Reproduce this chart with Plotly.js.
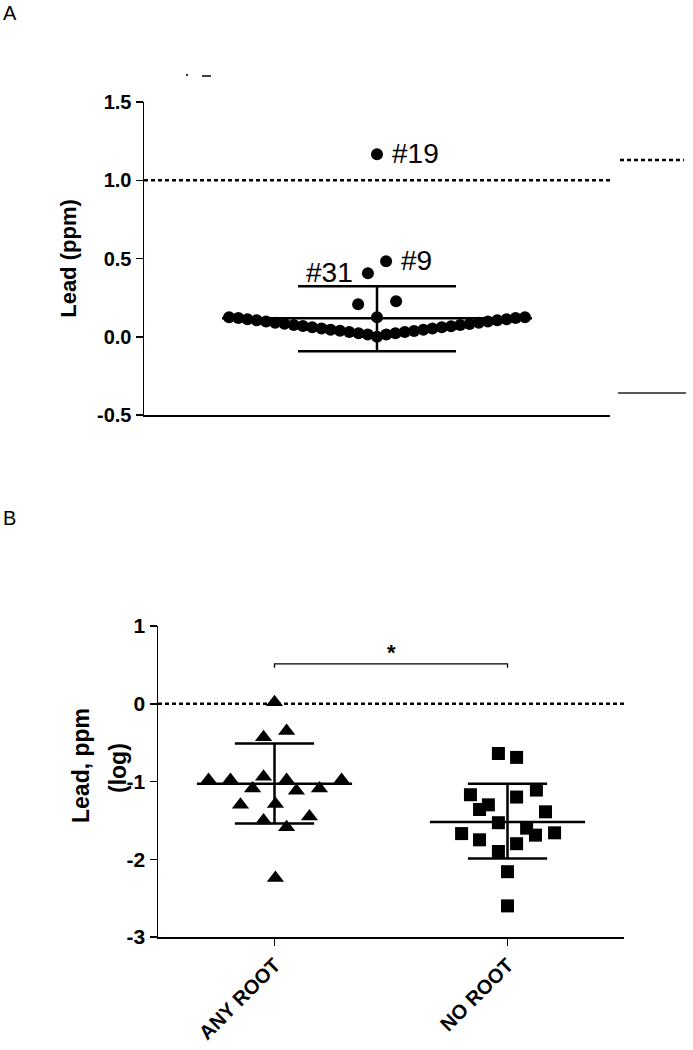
<!DOCTYPE html>
<html>
<head>
<meta charset="utf-8">
<script src="https://cdn.plot.ly/plotly-3.0.1.min.js"></script>
<style>html,body{margin:0;padding:0;background:#fff;}#chart{width:693px;height:1050px;}</style>
</head>
<body>
<div id="chart"></div>
<script>
// ---------- Panel A data (Lead, ppm) ----------
const rowValues = [0.125,0.120,0.112,0.105,0.097,0.090,0.083,0.075,0.068,0.060,0.053,0.045,0.038,0.030,0.023,0.015,0.000,
                   0.015,0.022,0.030,0.037,0.045,0.052,0.060,0.067,0.075,0.082,0.090,0.097,0.105,0.112,0.120,0.125];
const rowJitter = [-0.635,-0.595,-0.556,-0.516,-0.476,-0.437,-0.397,-0.357,-0.318,-0.278,-0.238,-0.199,-0.159,-0.119,-0.079,-0.040,0,
                   0.040,0.079,0.119,0.159,0.199,0.238,0.278,0.318,0.357,0.397,0.437,0.476,0.516,0.556,0.595,0.635];
const extraValues = [1.166, 0.482, 0.406, 0.208, 0.227, 0.125];
const extraJitter = [0, 0.039, -0.039, -0.081, 0.082, 0];
const extraLabels = ["#19", "#9", "#31", "", "", ""];
const meanA = 0.118, sdUpperA = 0.323, sdLowerA = -0.093;
const thresholdA = 1.0;
const ticksA = [-0.5, 0, 0.5, 1.0, 1.5];
const tickTextA = ["-0.5", "0.0", "0.5", "1.0", "1.5"];

// ---------- Panel B data (Lead, ppm, log) ----------
const categoriesB = ["ANY ROOT", "NO ROOT"];
const anyRootValues = [0.02,-0.43,-0.35,-0.98,-0.98,-0.94,-0.98,-0.98,-1.09,-1.12,-1.09,-1.30,-1.29,-1.50,-1.45,-1.59,-2.24];
const anyRootJitter = [0,-0.047,0.052,-0.283,-0.189,-0.047,0.052,0.288,-0.094,0.094,0.193,-0.146,0.004,-0.047,0.150,0.052,0.004];
const noRootValues = [-0.64,-0.69,-1.11,-1.17,-1.20,-1.30,-1.36,-1.39,-1.53,-1.60,-1.67,-1.66,-1.69,-1.75,-1.80,-1.90,-2.16,-2.60];
const noRootJitter = [-0.039,0.039,0.124,-0.159,0.039,-0.082,-0.120,0.163,-0.039,0.082,-0.197,0.202,0.120,-0.120,0.039,-0.039,0,0];
const meansB = [-1.03, -1.52];
const sdUpperB = [-0.51, -1.03];
const sdLowerB = [-1.54, -1.99];
const refLineB = 0;
const bracketLevel = 0.514;
const ticksB = [-3, -2, -1, 0, 1];
const tickTextB = ["-3", "-2", "-1", "0", "1"];

const FONT = "Liberation Sans, Arial, Helvetica, sans-serif";
const BLACK = "#000";

function summaryLines(cx, mean, up, lo, halfMean, halfCap) {
  return {
    x: [cx-halfMean, cx+halfMean, null, cx-halfCap, cx+halfCap, null, cx-halfCap, cx+halfCap, null, cx, cx],
    y: [mean, mean, null, up, up, null, lo, lo, null, up, lo]
  };
}

const traces = [];
// Panel A points
traces.push({
  x: rowJitter.concat(extraJitter), y: rowValues.concat(extraValues),
  type: "scatter", mode: "markers", xaxis: "x", yaxis: "y",
  marker: {symbol: "circle", size: 12, color: BLACK}, hoverinfo: "y"
});
const sA = summaryLines(0, meanA, sdUpperA, sdLowerA, 0.665, 0.339);
traces.push({x: sA.x, y: sA.y, type: "scatter", mode: "lines", xaxis: "x", yaxis: "y",
  line: {color: BLACK, width: 2.5}, hoverinfo: "skip"});

// Panel B points
traces.push({
  x: anyRootJitter.map(j => 0 + j), y: anyRootValues, type: "scatter", mode: "markers",
  xaxis: "x2", yaxis: "y2", marker: {symbol: "triangle-up", size: 15, color: BLACK}, hoverinfo: "y"
});
traces.push({
  x: noRootJitter.map(j => 1 + j), y: noRootValues, type: "scatter", mode: "markers",
  xaxis: "x2", yaxis: "y2", marker: {symbol: "square", size: 13, color: BLACK}, hoverinfo: "y"
});
for (let i = 0; i < categoriesB.length; i++) {
  const s = summaryLines(i, meansB[i], sdUpperB[i], sdLowerB[i], 0.333, 0.17);
  traces.push({x: s.x, y: s.y, type: "scatter", mode: "lines", xaxis: "x2", yaxis: "y2",
    line: {color: BLACK, width: 2.5}, hoverinfo: "skip"});
}
// significance bracket
traces.push({x: [0, 0, 1, 1], y: [bracketLevel - 0.05, bracketLevel, bracketLevel, bracketLevel - 0.05],
  type: "scatter", mode: "lines", xaxis: "x2", yaxis: "y2", line: {color: BLACK, width: 1.3}, hoverinfo: "skip"});

const px = v => v / 693, py = v => 1 - v / 1050;

const annotations = [
  {text: "A", xref: "paper", yref: "paper", x: px(1), y: py(0), xanchor: "left", yanchor: "top", showarrow: false,
   font: {family: FONT, size: 20, color: BLACK}},
  {text: "B", xref: "paper", yref: "paper", x: px(1), y: py(505), xanchor: "left", yanchor: "top", showarrow: false,
   font: {family: FONT, size: 20, color: BLACK}},
  {text: "*", xref: "x2", yref: "y2", x: 0.5, y: 0.66, showarrow: false,
   font: {family: FONT, size: 22, color: BLACK, weight: 700}},
  {text: "Lead, ppm", xref: "paper", yref: "paper", x: px(81), y: py(766), textangle: -90, showarrow: false,
   xanchor: "center", yanchor: "middle", font: {family: FONT, size: 23, color: BLACK, weight: 700}},
  {text: "(log)", xref: "paper", yref: "paper", x: px(118), y: py(768), textangle: -90, showarrow: false,
   xanchor: "center", yanchor: "middle", font: {family: FONT, size: 23, color: BLACK, weight: 700}}
];
// point labels in panel A
extraLabels.forEach((lab, i) => {
  if (!lab) return;
  const left = extraJitter[i] >= 0;
  annotations.push({text: lab, xref: "x", yref: "y", x: extraJitter[i], y: extraValues[i], showarrow: false,
    xanchor: left ? "left" : "right", xshift: left ? 13 : -13, yshift: 1,
    font: {family: FONT, size: 28, color: BLACK}});
});

const shapes = [
  {type: "line", xref: "x domain", yref: "y", x0: 0, x1: 1, y0: thresholdA, y1: thresholdA,
   line: {color: BLACK, width: 2.5, dash: "4px,3px"}},
  {type: "line", xref: "x2 domain", yref: "y2", x0: 0, x1: 1, y0: refLineB, y1: refLineB,
   line: {color: BLACK, width: 2.5, dash: "4px,3px"}},
  // stray marks present in the original figure
  {type: "line", xref: "paper", yref: "paper", x0: px(620), x1: px(684), y0: py(160), y1: py(160),
   line: {color: BLACK, width: 2.5, dash: "4px,3px"}},
  {type: "line", xref: "paper", yref: "paper", x0: px(618), x1: px(686), y0: py(393), y1: py(393),
   line: {color: "#222", width: 1.5}},
  {type: "line", xref: "paper", yref: "paper", x0: px(202), x1: px(211), y0: py(76), y1: py(76),
   line: {color: BLACK, width: 1.5}},
  {type: "rect", xref: "paper", yref: "paper", x0: px(186), x1: px(188), y0: py(76), y1: py(74),
   line: {width: 0}, fillcolor: "#333"}
];

const layout = {
  width: 693, height: 1050, margin: {l: 0, r: 0, t: 0, b: 0},
  paper_bgcolor: "#fff", plot_bgcolor: "#fff", showlegend: false,
  xaxis: {domain: [px(144), px(610)], range: [-1, 1], showline: true, linecolor: BLACK, linewidth: 1.5,
    ticks: "", showticklabels: false, showgrid: false, zeroline: false, anchor: "y", fixedrange: true},
  yaxis: {domain: [py(415), py(102)], range: [-0.5, 1.5], tickvals: ticksA, ticktext: tickTextA,
    showline: true, linecolor: BLACK, linewidth: 1.5, ticks: "outside", ticklen: 7, tickwidth: 1.5, tickcolor: BLACK,
    showgrid: false, zeroline: false, anchor: "x", automargin: false,
    tickfont: {family: FONT, size: 20, color: BLACK, weight: 700},
    title: {text: "Lead (ppm)", standoff: 14, font: {family: FONT, size: 22, color: BLACK, weight: 700}}},
  xaxis2: {domain: [px(158), px(624)], range: [-0.5, 1.5], tickvals: [0, 1], ticktext: categoriesB,
    tickangle: -45, showline: true, linecolor: BLACK, linewidth: 1.5, ticks: "outside", ticklen: 7, tickwidth: 1.5,
    tickcolor: BLACK, showgrid: false, zeroline: false, anchor: "y2", automargin: false,
    tickfont: {family: FONT, size: 20, color: BLACK, weight: 700}},
  yaxis2: {domain: [py(937), py(626)], range: [-3, 1], tickvals: ticksB, ticktext: tickTextB,
    showline: true, linecolor: BLACK, linewidth: 1.5, ticks: "outside", ticklen: 7, tickwidth: 1.5, tickcolor: BLACK,
    showgrid: false, zeroline: false, anchor: "x2", automargin: false,
    tickfont: {family: FONT, size: 21, color: BLACK, weight: 700}},
  annotations: annotations, shapes: shapes
};

Plotly.newPlot("chart", traces, layout, {displayModeBar: false, staticPlot: true});
</script>
</body>
</html>
